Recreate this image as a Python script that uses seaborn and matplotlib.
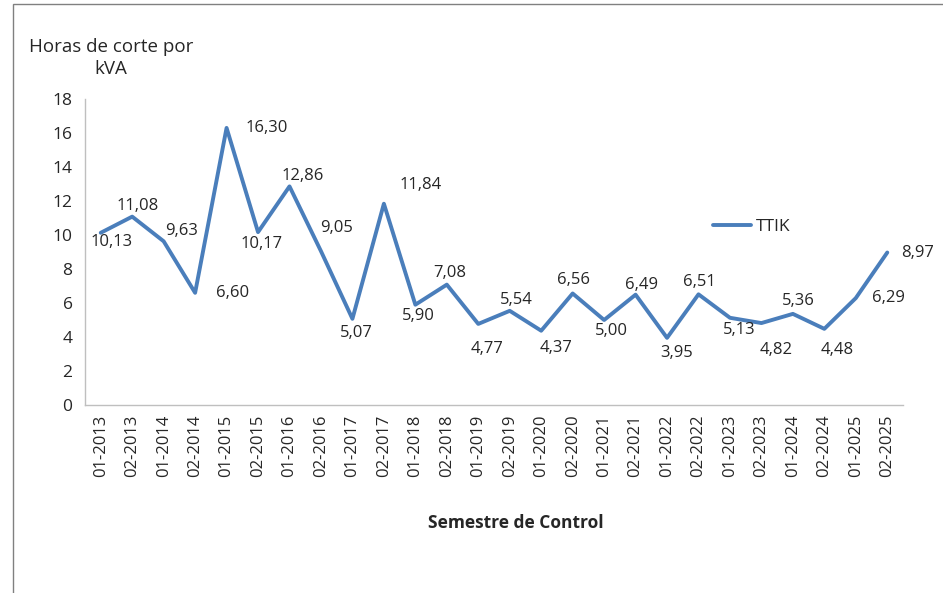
import numpy as np
import pandas as pd
import matplotlib
matplotlib.use("Agg")
import matplotlib.pyplot as plt
import seaborn as sns
from matplotlib.patches import Rectangle

semestres = ["01-2013", "02-2013", "01-2014", "02-2014", "01-2015", "02-2015",
             "01-2016", "02-2016", "01-2017", "02-2017", "01-2018", "02-2018",
             "01-2019", "02-2019", "01-2020", "02-2020", "01-2021", "02-2021",
             "01-2022", "02-2022", "01-2023", "02-2023", "01-2024", "02-2024",
             "01-2025", "02-2025"]
ttik = [10.13, 11.08, 9.63, 6.60, 16.30, 10.17, 12.86, 9.05, 5.07, 11.84,
        5.90, 7.08, 4.77, 5.54, 4.37, 6.56, 5.00, 6.49, 3.95, 6.51,
        5.13, 4.82, 5.36, 4.48, 6.29, 8.97]

# label offsets in pixels (dx, dy), dy positive = up
offsets = [(11, -9), (5, 11), (18, 10), (37, 0), (40, 0), (4, -12), (13, 10),
           (16, 23), (4, -14), (37, 19), (3, -11), (3, 12), (9, -25), (7, 11),
           (15, -17), (1, 13), (7, -11), (6, 10), (10, -15), (1, 12), (9, -12),
           (15, -27), (5, 13), (13, -21), (33, 0), (30, 0)]

df = pd.DataFrame({"Semestre": semestres, "TTIK": ttik})

sns.set_style("white")
plt.rcParams["font.family"] = ["Open Sans", "DejaVu Sans"]
txt = "#262626"
grey = "#bfbfbf"

fig = plt.figure(figsize=(9.43, 5.93), dpi=100)
ax = fig.add_axes([85 / 943, 1 - 405 / 593, 818 / 943, 306 / 593])

sns.lineplot(data=df, x="Semestre", y="TTIK", sort=False, ax=ax,
             color="#4a7ebb", linewidth=2.8, label="TTIK")

for i, (v, (dx, dy)) in enumerate(zip(ttik, offsets)):
    ax.annotate(f"{v:.2f}".replace(".", ","), (i, v), xytext=(dx, dy),
                textcoords="offset pixels", ha="center", va="center",
                fontsize=12, color=txt)

ax.set_xlim(-0.5, len(semestres) - 0.5)
ax.set_ylim(0, 18)
ax.set_yticks(np.arange(0, 19, 2))
ax.set_xticks(range(len(semestres)))
ax.set_xticklabels(semestres, rotation=90)
ax.set_xticks(np.arange(-0.5, len(semestres), 1), minor=True)
ax.tick_params(axis="x", which="major", length=0, pad=7, labelsize=12, labelcolor=txt)
ax.tick_params(axis="x", which="minor", length=5, color=grey, width=1)
ax.tick_params(axis="y", length=5, color=grey, width=1, labelsize=12.5, labelcolor=txt, pad=4)

for s in ["top", "right"]:
    ax.spines[s].set_visible(False)
for s in ["left", "bottom"]:
    ax.spines[s].set_color(grey)
    ax.spines[s].set_linewidth(1)

ax.set_xlabel("")
ax.set_ylabel("")
fig.text(516 / 943, 1 - 523 / 593, "Semestre de Control", ha="center", va="center",
         fontsize=12.5, fontweight="bold", color=txt)
fig.text(111 / 943, 1 - 58 / 593, "Horas de corte por\nkVA", ha="center", va="center",
         fontsize=13.5, color=txt, linespacing=1.3)

leg = ax.legend(loc="center left", bbox_to_anchor=(697 / 943, 1 - 227 / 593),
                bbox_transform=fig.transFigure, frameon=False, fontsize=12.5,
                handlelength=2.2, handletextpad=0.3)
for t in leg.get_texts():
    t.set_color(txt)

fig.patches.append(Rectangle((13 / 943, -0.05), 1.2, 1.05 - 4 / 593, transform=fig.transFigure,
                             fill=False, edgecolor="#808080", linewidth=1))

fig.savefig("out.png", dpi=100)
